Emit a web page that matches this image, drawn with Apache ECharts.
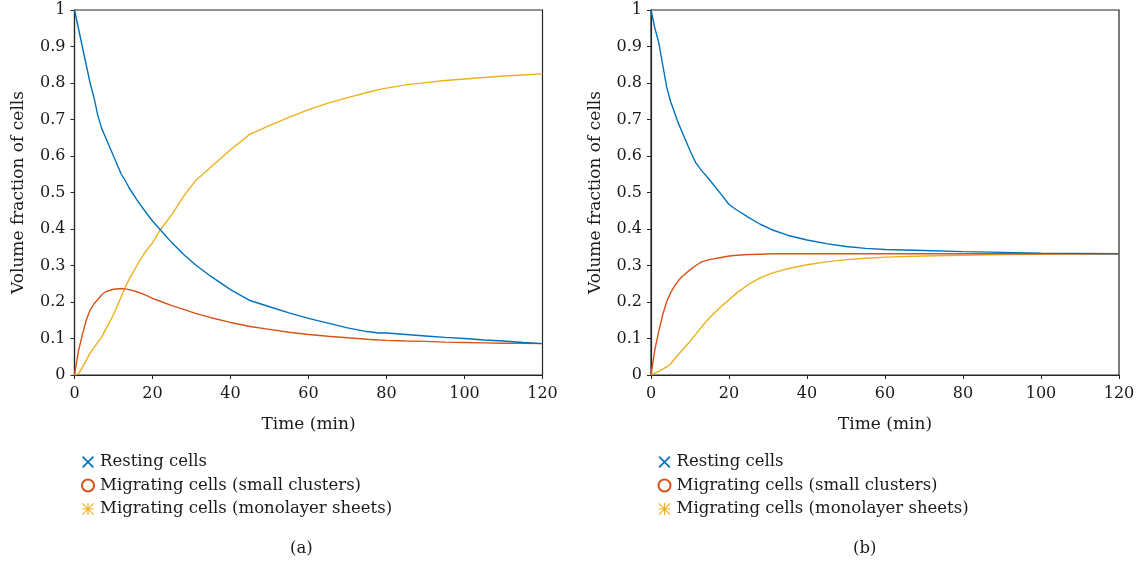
<!DOCTYPE html>
<html>
<head>
<meta charset="utf-8">
<title>Volume fraction of cells</title>
<script src="https://cdn.jsdelivr.net/npm/echarts@6/dist/echarts.min.js"></script>
<style>
    html, body {margin: 0; padding: 0; background: #fff;}
    #main {width: 1142px; height: 565px;}
</style>
</head>
<body>
<div id="main"></div>
<script>
//数据 (a)
var timeA = [0, 1, 2, 3, 4, 5, 6, 7, 8, 10, 12, 13, 14, 16, 18, 20, 22, 25, 28, 31, 35, 40, 45, 50, 55, 60, 65, 70, 75, 78, 80, 85, 90, 95, 100, 105, 110, 115, 120];
var restingA = [1.0, 0.95, 0.9, 0.85, 0.8, 0.76, 0.71, 0.675, 0.65, 0.6, 0.55, 0.533, 0.513, 0.48, 0.45, 0.422, 0.398, 0.362, 0.33, 0.302, 0.27, 0.234, 0.204, 0.187, 0.17, 0.155, 0.142, 0.129, 0.119, 0.115, 0.115, 0.111, 0.107, 0.103, 0.1, 0.096, 0.093, 0.089, 0.086];
var clustersA = [0, 0.065, 0.11, 0.15, 0.178, 0.195, 0.207, 0.22, 0.228, 0.235, 0.237, 0.236, 0.234, 0.228, 0.22, 0.21, 0.202, 0.19, 0.18, 0.169, 0.157, 0.144, 0.133, 0.125, 0.117, 0.111, 0.106, 0.102, 0.098, 0.096, 0.095, 0.093, 0.092, 0.09, 0.089, 0.088, 0.087, 0.087, 0.086];
var sheetsA = [0, 0.003, 0.02, 0.04, 0.06, 0.075, 0.09, 0.105, 0.125, 0.165, 0.215, 0.24, 0.262, 0.3, 0.335, 0.362, 0.398, 0.44, 0.49, 0.532, 0.57, 0.617, 0.66, 0.683, 0.706, 0.727, 0.745, 0.76, 0.774, 0.782, 0.786, 0.795, 0.801, 0.807, 0.811, 0.815, 0.819, 0.822, 0.825];

//数据 (b)
var timeB = [0, 1, 2, 3, 4, 5, 6, 7, 8, 10, 11.5, 13, 15, 18, 20, 22, 25, 28, 31, 35, 40, 45, 50, 55, 60, 70, 80, 90, 100, 110, 120];
var restingB = [1.0, 0.95, 0.91, 0.85, 0.79, 0.75, 0.72, 0.69, 0.665, 0.615, 0.581, 0.56, 0.535, 0.495, 0.467, 0.452, 0.432, 0.413, 0.398, 0.383, 0.37, 0.36, 0.352, 0.347, 0.344, 0.341, 0.338, 0.336, 0.334, 0.333, 0.332];
var clustersB = [0, 0.07, 0.12, 0.165, 0.2, 0.225, 0.243, 0.258, 0.27, 0.288, 0.3, 0.31, 0.316, 0.322, 0.326, 0.328, 0.33, 0.331, 0.332, 0.332, 0.332, 0.332, 0.332, 0.332, 0.332, 0.332, 0.332, 0.332, 0.332, 0.332, 0.332];
var sheetsB = [0, 0.005, 0.01, 0.016, 0.022, 0.03, 0.043, 0.056, 0.068, 0.092, 0.112, 0.132, 0.157, 0.188, 0.206, 0.225, 0.248, 0.266, 0.279, 0.291, 0.302, 0.31, 0.316, 0.32, 0.323, 0.326, 0.328, 0.33, 0.331, 0.332, 0.332];

var seriesNames = ['Resting cells', 'Migrating cells (small clusters)', 'Migrating cells (monolayer sheets)'];
var panelLabels = ['(a)', '(b)'];
var xTicks = {min: 0, max: 120, interval: 20};
var yTicks = {min: 0, max: 1, interval: 0.1};

var colors = ['#0072BD', '#D95319', '#EDB120'];
var font = 'DejaVu Serif';
var axisColor = '#262626';

//图例图标：叉号和星号
var crossIcon = 'path://M0,1 L1,0 L5,4 L9,0 L10,1 L6,5 L10,9 L9,10 L5,6 L1,10 L0,9 L4,5 Z';
var starIcon = 'path://M4.5,0 L5.5,0 L5.5,10 L4.5,10 Z M0,4.5 L10,4.5 L10,5.5 L0,5.5 Z ' +
    'M0.7,0 L10,9.3 L9.3,10 L0,0.7 Z M9.3,0 L10,0.7 L0.7,10 L0,9.3 Z';
var icons = [crossIcon, 'emptyCircle', starIcon];

function zip(xs, ys) {
    var out = [];
    for (var i = 0; i < xs.length; i++) {
        out.push([xs[i], ys[i]]);
    }
    return out;
}

var gridLefts = [74.5, 651];

function makeXAxis(idx) {
    return {
        type: 'value', gridIndex: idx,
        min: xTicks.min, max: xTicks.max, interval: xTicks.interval,
        name: 'Time (min)', nameLocation: 'middle', nameGap: 41,
        nameTextStyle: {fontFamily: font, fontSize: 17, color: '#1a1a1a'},
        axisLine: {lineStyle: {color: axisColor, width: 1.2}},
        axisTick: {length: 4, lineStyle: {color: axisColor}},
        axisLabel: {fontFamily: font, fontSize: 16, color: '#1a1a1a', margin: 11},
        splitLine: {show: false}
    };
}

function makeYAxis(idx) {
    return {
        type: 'value', gridIndex: idx,
        min: yTicks.min, max: yTicks.max, interval: yTicks.interval,
        name: 'Volume fraction of cells', nameLocation: 'middle', nameGap: 47,
        nameTextStyle: {fontFamily: font, fontSize: 17, color: '#1a1a1a'},
        axisLine: {lineStyle: {color: axisColor, width: 1.2}},
        axisTick: {length: 4, lineStyle: {color: axisColor}},
        axisLabel: {
            fontFamily: font, fontSize: 16, color: '#1a1a1a', margin: 9,
            formatter: function (v) { return String(Math.round(v * 10) / 10); }
        },
        splitLine: {show: false}
    };
}

function makeLegend(idx) {
    return {
        orient: 'vertical',
        left: gridLefts[idx] + 1.5,
        top: 447,
        itemWidth: 12, itemHeight: 12, itemGap: 3.5,
        textStyle: {fontFamily: font, fontSize: 16.5, color: '#1a1a1a', lineHeight: 20, padding: [0, 0, 0, 1]},
        itemStyle: {borderWidth: 1.3},
        selectedMode: false,
        data: seriesNames.map(function (n, i) { return {name: n, icon: icons[i]}; })
    };
}

function makeSeries(idx, t, lists) {
    return lists.map(function (vals, i) {
        return {
            name: seriesNames[i], type: 'line',
            xAxisIndex: idx, yAxisIndex: idx,
            data: zip(t, vals),
            showSymbol: false, symbol: 'none',
            lineStyle: {color: colors[i], width: 1.4},
            itemStyle: {color: colors[i]},
            z: 3 - i
        };
    });
}

var myChart = echarts.init(document.getElementById('main'), null, {renderer: 'canvas'});
var option = {
    animation: false,
    color: colors,
    title: [
        {text: panelLabels[0], left: 285, top: 535,
            textStyle: {fontFamily: font, fontSize: 16.5, fontWeight: 'normal', color: '#1a1a1a'}},
        {text: panelLabels[1], left: 848, top: 535,
            textStyle: {fontFamily: font, fontSize: 16.5, fontWeight: 'normal', color: '#1a1a1a'}}
    ],
    grid: [
        {left: gridLefts[0], top: 10, width: 468, height: 365, show: true, borderColor: axisColor, borderWidth: 1.2},
        {left: gridLefts[1], top: 10, width: 468, height: 365, show: true, borderColor: axisColor, borderWidth: 1.2}
    ],
    xAxis: [makeXAxis(0), makeXAxis(1)],
    yAxis: [makeYAxis(0), makeYAxis(1)],
    legend: [makeLegend(0), makeLegend(1)],
    series: makeSeries(0, timeA, [restingA, clustersA, sheetsA])
        .concat(makeSeries(1, timeB, [restingB, clustersB, sheetsB]))
};
myChart.setOption(option);
</script>
</body>
</html>
